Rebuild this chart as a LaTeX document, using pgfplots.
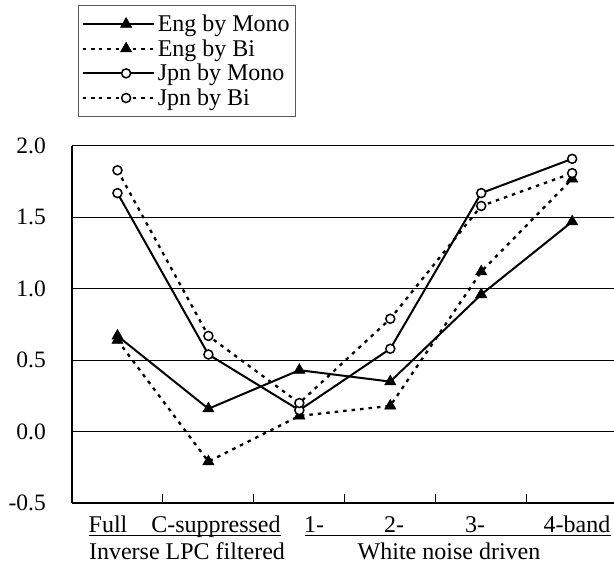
\documentclass[border=0pt]{standalone}
\usepackage{fontspec}
\setmainfont{Liberation Serif}
\usepackage{pgfplots}
\pgfplotsset{compat=1.18}
\begin{document}
\begin{tikzpicture}[font=\fontsize{24}{28}\selectfont]
\useasboundingbox (0,0) rectangle (614pt,567pt);
\begin{axis}[
 at={(72pt,64pt)}, anchor=south west,
 scale only axis, width=542pt, height=357pt,
 xmin=-0.5, xmax=5.46, ymin=-0.5, ymax=2,
 axis x line*=bottom, axis y line*=left,
 axis line style={black, line width=1.2pt, -},
 xtick={0.5,1.5,2.5,3.5,4.5}, xticklabels={},
 xtick pos=bottom, ytick pos=left,
 xtick style={black, line width=1pt}, major tick length=9pt, tick align=inside,
 ytick={-0.5,0,0.5,1,1.5,2},
 ytick style={draw=none},
 ymajorgrids, grid style={black, line width=1pt},
 yticklabel style={font=\fontsize{23.5}{27}\selectfont, inner sep=0pt, xshift=-26pt, /pgf/number format/.cd, fixed, fixed zerofill, precision=1, assume math mode=true},
 legend style={at={(0.011,1.395)}, anchor=north west, draw=gray!70!black, line width=1pt,
   font=\fontsize{24}{28}\selectfont, inner xsep=3pt, inner ysep=8pt, row sep=3.5pt,
   nodes={inner xsep=3pt, inner ysep=1.5pt}},
 legend cell align=left,
 legend image code/.code={\path (0pt,0pt) -- (16pt,0pt); \draw[mark repeat=2, mark phase=2, #1] plot coordinates {(16pt,0pt) (43.5pt,0pt) (71pt,0pt)};},
]
\addplot[black, line width=2pt, mark=triangle*, mark size=6.5pt, mark options={solid, line width=0.5pt}]
 coordinates {(0,0.67) (1,0.16) (2,0.43) (3,0.35) (4,0.96) (5,1.47)};
\addlegendentry{Eng by Mono}
\addplot[black, line width=2.3pt, dash pattern=on 3.5pt off 5pt, mark=triangle*, mark size=6.5pt, mark options={solid, line width=0.5pt}]
 coordinates {(0,0.64) (1,-0.21) (2,0.11) (3,0.18) (4,1.12) (5,1.77)};
\addlegendentry{Eng by Bi}
\addplot[black, line width=2pt, mark=*, mark size=4.5pt, mark options={solid, fill=white, line width=1.5pt}]
 coordinates {(0,1.67) (1,0.54) (2,0.15) (3,0.58) (4,1.67) (5,1.91)};
\addlegendentry{Jpn by Mono}
\addplot[black, line width=2.3pt, dash pattern=on 3.5pt off 5pt, mark=*, mark size=4.5pt, mark options={solid, fill=white, line width=1.5pt}]
 coordinates {(0,1.83) (1,0.67) (2,0.20) (3,0.79) (4,1.58) (5,1.81)};
\addlegendentry{Jpn by Bi}
\end{axis}
\node[anchor=base, inner sep=0pt] at (108pt,34pt) {Full};
\node[anchor=base, inner sep=0pt] at (216pt,34pt) {C-suppressed};
\node[anchor=base, inner sep=0pt] at (314pt,34pt) {1-};
\node[anchor=base, inner sep=0pt] at (394pt,34pt) {2-};
\node[anchor=base, inner sep=0pt] at (475pt,34pt) {3-};
\node[anchor=base, inner sep=0pt] at (577pt,34pt) {4-band};
\draw[line width=1pt] (89pt,31pt) -- (281pt,31pt);
\draw[line width=1pt] (305pt,31pt) -- (611pt,31pt);
\node[anchor=base, inner sep=0pt] at (187pt,7pt) {Inverse LPC filtered};
\node[anchor=base, inner sep=0pt] at (449pt,7pt) {White noise driven};
\end{tikzpicture}
\end{document}
